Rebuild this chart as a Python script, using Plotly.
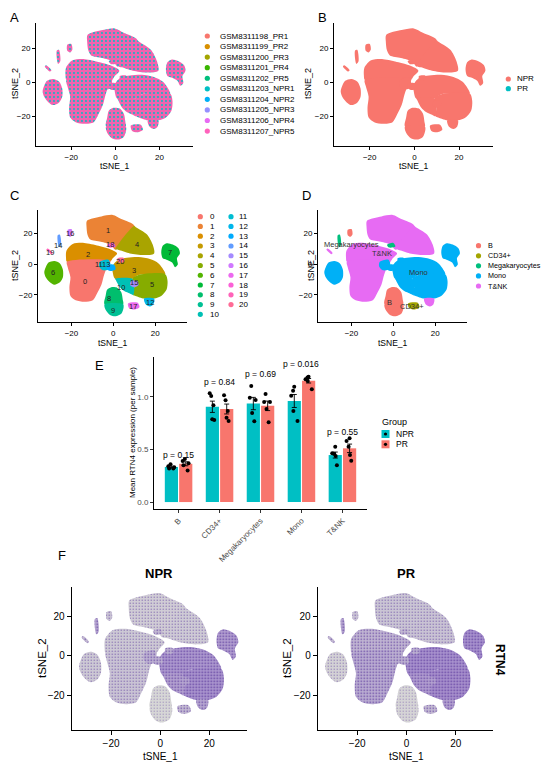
import math
import plotly.graph_objects as go

PAGE_W, PAGE_H = 550, 770
OFF = 8                      # browser body margin
W, H = PAGE_W - 2 * OFF, PAGE_H - 2 * OFF
FONT = "Liberation Sans, Arial, sans-serif"

# ------------------------------------------------------------------ data
samples = ["GSM8311198_PR1", "GSM8311199_PR2", "GSM8311200_PR3", "GSM8311201_PR4",
           "GSM8311202_PR5", "GSM8311203_NPR1", "GSM8311204_NPR2", "GSM8311205_NPR3",
           "GSM8311206_NPR4", "GSM8311207_NPR5"]
groups = ["NPR", "PR"]
cell_types = ["B", "CD34+", "Megakaryocytes", "Mono", "T&NK"]
cluster_ids = [str(i) for i in range(21)]
cluster_celltype = ["T&NK", "T&NK", "T&NK", "Mono", "T&NK", "Mono", "Mono", "Mono", "B", "B",
                    "Mono", "Mono", "T&NK", "Mono", "Megakaryocytes", "Mono", "B", "CD34+",
                    "Megakaryocytes", "T&NK", "Mono"]

# cluster outlines in tSNE space
outline_0 = [(-22.2, 1.5), (-1.3, 2), (-2.7, -1.1), (-4.4, -6.9), (-5.7, -13.4), (-7.8, -19.1),
             (-9.8, -23.5), (-13.9, -24.5), (-18, -23.5), (-20.5, -20.7), (-21, -15),
             (-20.5, -8.5), (-21.8, -2)]
outline_1 = [(-12.6, 28.2), (-5.7, 31), (-0.3, 32), (3.8, 29.4), (10, 25), (1, 9.5),
             (-1, 12.5), (-6, 14.5), (-11, 16), (-12.3, 19), (-12.8, 24.2)]
outline_2 = [(-22.4, 8.7), (-19.4, 13.1), (-13.9, 13.8), (-7.1, 12), (-2, 10), (1.8, 7),
             (-0.3, 3.8), (-1.3, 2), (-22.2, 1.5), (-22.6, 3.8)]
outline_3 = [(0.4, 0.5), (2.5, 2.9), (6.5, 4.1), (12, 4.6), (17.5, 3.3), (21.6, 0.5),
             (24.3, -4.4), (24.8, -6.5), (12, -7), (9, -9.5), (0.8, -9.5), (-0.3, -5.2), (-0.5, -2)]
outline_4 = [(10, 25), (10.6, 24.2), (16.1, 19.3), (18.8, 12.7), (19.5, 7), (14.7, 5.9),
             (7.9, 7), (3, 9), (1, 9.5)]
outline_5 = [(24.8, -6.5), (25.9, -10.9), (25.4, -16.7), (22.9, -20.7), (19.5, -22.4),
             (14.7, -22.4), (10.6, -20.7), (9.5, -20), (10, -14), (9, -9.5), (12, -7)]
outline_6 = [(-32.3, -2), (-31, 1), (-28.2, 2.1), (-25.5, 0.5), (-24.1, -3.6), (-24.1, -8.5),
             (-25.5, -11.8), (-28.2, -13.4), (-30.3, -11.8), (-32.3, -8.5), (-33, -5.2)]
outline_7 = [(23.6, 11.9), (25.6, 13.6), (28.4, 12.7), (31.1, 10.3), (31.8, 7), (30.4, 3.8),
             (30.8, -0.3), (29.5, -2), (28.1, 1), (25.4, 2.9), (23.6, 3.8), (22.9, 7.8)]
outline_8 = [(-3, -16.7), (-1, -15), (1.8, -15.3), (3.8, -18.3), (4.5, -23.2), (4.7, -26),
             (-4.2, -26), (-4.4, -24.8), (-3.7, -20.7)]
outline_9 = [(-4.2, -26), (4.7, -26), (4.9, -28.1), (3.8, -32.2), (1.1, -33.8), (-1.6, -33),
             (-3.7, -29.7)]
outline_10 = [(0.8, -9.5), (9, -9.5), (10, -14), (9.5, -20), (7.9, -19.1), (5.2, -17.5),
              (3.1, -15), (1.1, -10.1)]
outline_11 = [(-6.5, 1.5), (-2.5, 3), (-1.5, 0.5), (-2.5, -3.5), (-5, -4), (-6.8, -1.5)]
outline_12 = [(14.7, -22.4), (19.5, -22.4), (19.2, -26), (17.5, -27.5), (15.4, -26)]
outline_13 = [(-3, -0.5), (0.5, -0.5), (1, -3.5), (-1.5, -4.5), (-3.2, -3)]
outline_14 = [(-26.6, 18.8), (-25.6, 19.3), (-25, 12.5), (-26, 11)]
outline_15 = [(8.5, -11), (11.5, -11), (12, -13.5), (10, -15), (8, -13.5)]
outline_16 = [(-21.8, 22.3), (-20, 22.8), (-19.5, 19.5), (-20.5, 17.8), (-21.8, 18.8)]
outline_17 = [(7, -25.5), (11.5, -25), (12.5, -28), (10, -29.5), (7.5, -28.5)]
outline_18 = [(-3, 12.5), (0, 13.8), (1, 11.5), (-2, 10.8)]
outline_19 = [(-32, 9.5), (-31.4, 10.2), (-29, 7.2), (-29.6, 6.5)]
outline_20 = [(2, 3.8), (5, 4), (5.2, 1.5), (2.5, 1)]

cluster_label_x = [-13.6, -2.4, -12, 10, 11.2, 18.6, -28.8, 27, -1.9, -0.3, 3.7, -6.7, 17.7,
                   -3.5, -26.4, 10, -20.9, 9.3, -1.4, -30.5, 3.4]
cluster_label_y = [-11.2, 22, 6.3, -3.8, 12.5, -13.3, -5.5, 7.4, -22, -30.3, -15.4, -0.2, -25,
                   -0.2, 12, -11.9, 19.9, -27.5, 12.5, 7.4, 1.9]
celltype_label_x = [-1.7, 8.7, -20.2, 11.9, -5.3]
celltype_label_y = [-24.9, -27.5, 12.7, -5.6, 6.9]

# RTN4 relative expression level per cluster (0-1), panel F
rtn4_npr = [0.2, 0.1, 0.15, 0.65, 0.12, 0.68, 0.15, 0.6, 0.0, 0.0, 0.55, 0.4, 0.5, 0.4, 0.5,
            0.5, 0.2, 0.3, 0.3, 0.3, 0.4]
rtn4_pr = [0.45, 0.18, 0.35, 0.7, 0.2, 0.72, 0.05, 0.7, 0.02, 0.02, 0.6, 0.4, 0.55, 0.4, 0.5,
           0.55, 0.2, 0.3, 0.3, 0.3, 0.4]

# panel E: per-sample mean RTN4 expression
bar_categories = ["B", "CD34+", "Megakaryocytes", "Mono", "T&NK"]
npr_b = [0.36, 0.34, 0.33, 0.32, 0.32]
pr_b = [0.41, 0.39, 0.37, 0.35, 0.30]
npr_cd34 = [1.035, 1.01, 0.92, 0.787, 0.78]
pr_cd34 = [1.016, 0.969, 0.867, 0.803, 0.771]
npr_mega = [1.105, 0.993, 0.971, 0.848, 0.769]
pr_mega = [1.028, 0.952, 0.952, 0.886, 0.759]
npr_mono = [1.098, 1.06, 1.012, 0.867, 0.771]
pr_mono = [1.193, 1.184, 1.168, 1.152, 1.073]
npr_tnk = [0.527, 0.464, 0.457, 0.438, 0.35]
pr_tnk = [0.607, 0.581, 0.527, 0.448, 0.393]
p_values = ["0.15", "0.84", "0.69", "0.016", "0.55"]

# ------------------------------------------------------------------ helpers
outlines = [outline_0, outline_1, outline_2, outline_3, outline_4, outline_5, outline_6,
            outline_7, outline_8, outline_9, outline_10, outline_11, outline_12, outline_13,
            outline_14, outline_15, outline_16, outline_17, outline_18, outline_19, outline_20]
draw_order = [1, 4, 2, 0, 3, 5, 10, 6, 7, 8, 9, 12, 11, 13, 14, 15, 16, 17, 18, 19, 20]


def hcl_hex(h, c=100.0, l=65.0):
    hr = math.radians(h)
    u, v = c * math.cos(hr), c * math.sin(hr)
    Xn, Yn, Zn = 95.047, 100.0, 108.883
    un = 4 * Xn / (Xn + 15 * Yn + 3 * Zn)
    vn = 9 * Yn / (Xn + 15 * Yn + 3 * Zn)
    Y = Yn * ((l + 16) / 116) ** 3
    up = u / (13 * l) + un
    vp = v / (13 * l) + vn
    X = Y * 9 * up / (4 * vp)
    Z = Y * (12 - 3 * up - 20 * vp) / (4 * vp)
    X, Y, Z = X / 100, Y / 100, Z / 100
    rgb = [3.2404542 * X - 1.5371385 * Y - 0.4985314 * Z,
           -0.9692660 * X + 1.8760108 * Y + 0.0415560 * Z,
           0.0556434 * X - 0.2040259 * Y + 1.0572252 * Z]
    out = []
    for ch in rgb:
        ch = 12.92 * ch if ch <= 0.0031308 else 1.055 * ch ** (1 / 2.4) - 0.055
        out.append(int(round(max(0, min(1, ch)) * 255)))
    return "#%02X%02X%02X" % tuple(out)


def hue_pal(n):
    return [hcl_hex(15 + i * 360.0 / n) for i in range(n)]


def blend(c1, c2, t):
    return "rgb(%d,%d,%d)" % tuple(round(a + (b - a) * t) for a, b in zip(c1, c2))


def pxx(x):          # page pixel -> paper fraction
    return (x - OFF) / W


def pxy(y):
    return 1 - (y - OFF) / H


fig = go.Figure()
ann = []
shapes = []


def text(x, y, s, size=8.5, color="black", xanchor="center", yanchor="middle",
         angle=0, bold=False, xref="paper", yref="paper"):
    if xref == "paper":
        x = pxx(x)
    if yref == "paper":
        y = pxy(y)
    ann.append(dict(x=x, y=y, xref=xref, yref=yref, text=("<b>%s</b>" % s) if bold else s,
                    showarrow=False, xanchor=xanchor, yanchor=yanchor, textangle=angle,
                    font=dict(family=FONT, size=size, color=color)))


def key_shape(kind, cx, cy, r, color):
    shapes.append(dict(type=kind, xref="paper", yref="paper",
                       x0=pxx(cx - r), x1=pxx(cx + r), y0=pxy(cy + r), y1=pxy(cy - r),
                       fillcolor=color, line=dict(width=0)))


def add_clusters(ax, colors, patterns=None):
    for k in draw_order:
        pts = outlines[k] + [outlines[k][0]]
        kw = {}
        if patterns is not None:
            kw["fillpattern"] = patterns[k]
        fig.add_trace(go.Scatter(
            x=[p[0] for p in pts], y=[p[1] for p in pts], xaxis="x" + ax, yaxis="y" + ax,
            mode="lines", fill="toself", fillcolor=colors[k],
            line=dict(width=0, shape="spline", smoothing=0.8),
            hoverinfo="skip", showlegend=False, **kw))


def legend(xdot, xtext, y0, dy, labels, colors, size=8, r=2.6):
    for i, (lab, col) in enumerate(zip(labels, colors)):
        key_shape("circle", xdot, y0 + i * dy, r, col)
        text(xtext, y0 + i * dy, lab, size=size, xanchor="left")


# ------------------------------------------------------------------ panels A-D, F
sample_cols = hue_pal(10)
group_cols = hue_pal(2)
cluster_cols = hue_pal(21)
ct_cols = hue_pal(5)

# A: samples (mixed, pink on top with teal specks)
pat_a = [dict(shape=".", fgcolor=sample_cols[5], bgcolor="#F064AF", size=4, solidity=0.18,
              fillmode="replace") for _ in outlines]
add_clusters("", ["#F064AF"] * 21, pat_a)
# B: group
add_clusters("2", [group_cols[0]] * 21)
# C: clusters
add_clusters("3", cluster_cols)
# D: cell types
add_clusters("4", [ct_cols[cell_types.index(c)] for c in cluster_celltype])
# F: RTN4 feature plots
grey, lav, deep = (214, 214, 214), (150, 118, 202), (96, 62, 160)
for ax, vals in (("6", rtn4_npr), ("7", rtn4_pr)):
    cols = [blend(grey, lav, e) for e in vals]
    pats = [dict(shape=".", fgcolor="rgb(%d,%d,%d)" % deep, bgcolor=cols[i], size=3,
                 solidity=0.08 + 0.25 * vals[i], fillmode="replace") for i in range(21)]
    add_clusters(ax, cols, pats)

for i, cid in enumerate(cluster_ids):
    text(cluster_label_x[i], cluster_label_y[i], cid, size=7.5, color="#222222",
         xref="x3", yref="y3")
for i, ct in enumerate(cell_types):
    text(celltype_label_x[i], celltype_label_y[i], ct, size=7.5, color="#333333",
         xref="x4", yref="y4")

# ------------------------------------------------------------------ panel E
npr_sets = [npr_b, npr_cd34, npr_mega, npr_mono, npr_tnk]
pr_sets = [pr_b, pr_cd34, pr_mega, pr_mono, pr_tnk]


def mean(v):
    return sum(v) / len(v)


def se(v):
    m = mean(v)
    return math.sqrt(sum((a - m) ** 2 for a in v) / (len(v) - 1)) / math.sqrt(len(v))


for name, sets, col in (("NPR", npr_sets, group_cols[1]), ("PR", pr_sets, group_cols[0])):
    fig.add_trace(go.Bar(
        x=bar_categories, y=[mean(s) for s in sets], marker=dict(color=col, line=dict(width=0)),
        error_y=dict(type="data", array=[se(s) for s in sets], color="black",
                     thickness=0.9, width=2.5),
        xaxis="x5", yaxis="y5", showlegend=False, name=name))
for name, sets in (("NPR", npr_sets), ("PR", pr_sets)):
    xs, ys = [], []
    for cat, s in zip(bar_categories, sets):
        xs += [cat] * len(s)
        ys += s
    fig.add_trace(go.Box(
        x=xs, y=ys, boxpoints="all", jitter=0.55, pointpos=0,
        fillcolor="rgba(0,0,0,0)", line=dict(width=0, color="rgba(0,0,0,0)"),
        marker=dict(color="black", size=4), xaxis="x5", yaxis="y5",
        showlegend=False, name=name, hoverinfo="y"))

for i, p in enumerate(p_values):
    top = 1.1 * max(npr_sets[i] + pr_sets[i])
    text(i, top, "p = " + p, size=8.5, xref="x5", yref="y5")

# ------------------------------------------------------------------ axes
xr, yr = [-36, 35.2], [-37.6, 35.2]


def tsne_axes(n, x0, x1, y0, y1, fs, tl):
    common = dict(showline=True, linecolor="black", linewidth=1, ticks="outside",
                  ticklen=tl, tickwidth=1, tickcolor="black", showgrid=False, zeroline=False,
                  tickvals=[-20, 0, 20], tickfont=dict(family=FONT, size=fs, color="black"))
    fig.layout["xaxis" + n] = dict(domain=[pxx(x0), pxx(x1)], range=xr,
                                   anchor="y" + n, **common)
    fig.layout["yaxis" + n] = dict(domain=[pxy(y1), pxy(y0)], range=yr,
                                   anchor="x" + n, **common)


tsne_axes("", 36, 193, 23, 146, 8, 3)
tsne_axes("2", 334, 493, 23, 146, 8, 3)
tsne_axes("3", 38, 187, 210, 322, 8, 3)
tsne_axes("4", 318, 467, 210, 322, 8, 3)
tsne_axes("6", 71.7, 246.7, 586.7, 730, 10, 4)
tsne_axes("7", 317.7, 493.3, 586.7, 730, 10, 4)

fig.layout["xaxis5"] = dict(domain=[pxx(154), pxx(367)], range=[-0.6, 4.6], anchor="y5",
                            type="category", showline=True, linecolor="black", linewidth=1,
                            ticks="outside", ticklen=3, tickcolor="#333333", tickangle=-45,
                            showgrid=False, zeroline=False,
                            tickfont=dict(family=FONT, size=8, color="#4D4D4D"))
fig.layout["yaxis5"] = dict(domain=[pxy(509), pxy(357)], range=[-0.066, 1.38], anchor="x5",
                            showline=True, linecolor="black", linewidth=1, ticks="outside",
                            ticklen=3, tickcolor="#333333", showgrid=False, zeroline=False,
                            tickvals=[0, 0.5, 1.0], ticktext=["0.0", "0.5", "1.0"],
                            tickfont=dict(family=FONT, size=8, color="#4D4D4D"))

# ------------------------------------------------------------------ titles & legends
for lab, x, y in (("A", 14, 17), ("B", 322, 17), ("C", 14, 196), ("D", 306, 196),
                  ("E", 99, 365), ("F", 62, 555)):
    text(x, y, lab, size=13)

for (xt, yt, xl, yl) in ((115, 166, 15, 84), (414, 166, 308, 84),
                         (113, 343, 15, 266), (393, 343, 311, 266)):
    text(xt, yt, "tSNE_1", size=8.5)
    text(xl, yl, "tSNE_2", size=9, angle=-90)
text(160.7, 756, "tSNE_1", size=10)
text(42, 658, "tSNE_2", size=11.5, angle=-90)
text(406.7, 756, "tSNE_1", size=10)
text(287, 658, "tSNE_2", size=11.5, angle=-90)
text(159.3, 573, "NPR", size=13, bold=True)
text(406.7, 573, "PR", size=13, bold=True)
text(500, 660, "RTN4", size=12, bold=True, angle=90)
text(132, 433, "Mean RTN4 expression (per sample)", size=8, angle=-90)

legend(207.3, 217.5, 36, 10.56, samples, sample_cols, size=8)
legend(508.3, 514.5, 79, 9.7, groups, group_cols, size=8)
legend(200.3, 208, 216.7, 9.76, cluster_ids[:11], cluster_cols[:11], size=8)
legend(231, 236.5, 216.7, 9.76, cluster_ids[11:], cluster_cols[11:], size=8)
legend(478.5, 485.5, 245.7, 10.08, cell_types, ct_cols, size=7.2)

text(380, 421.7, "Group", size=9, xanchor="left")
for i, (g, col) in enumerate(zip(groups, [group_cols[1], group_cols[0]])):
    y = 434 + i * 10.3
    key_shape("rect", 385.5, y, 4, col)
    key_shape("circle", 385.5, y, 1.6, "black")
    text(394, y, g, size=8.5, xanchor="left")

fig.update_layout(
    width=W, height=H, margin=dict(l=0, r=0, t=0, b=0),
    paper_bgcolor="white", plot_bgcolor="white", showlegend=False,
    barmode="group", bargap=0.3, bargroupgap=0.08,
    boxmode="group", boxgap=0.3, boxgroupgap=0.08,
    annotations=ann, shapes=shapes, font=dict(family=FONT, color="black"),
)
fig.write_html("out.html")
